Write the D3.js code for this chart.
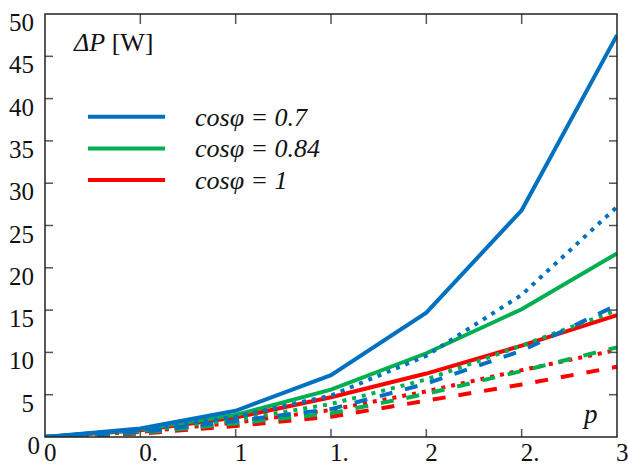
<!DOCTYPE html>
<html>
<head>
  <meta charset="UTF-8">
  <script src="https://d3js.org/d3.v7.min.js"></script>
</head>
<body style="margin:0">
  <svg width="628" height="466"></svg>
  <script>
    // data
    const pValues = [0, 0.5, 1, 1.5, 2, 2.5, 3];
    const xTickLabels = ["0", "0.", "1", "1.", "2", "2.", "3"];
    const yTicks = [0, 5, 10, 15, 20, 25, 30, 35, 40, 45, 50];

    const blueSolid   = [0, 1.0, 3.1, 7.3, 14.7, 26.8, 47.5];
    const blueDotted  = [0, 0.8, 2.4, 4.9, 9.6, 16.8, 27.2];
    const blueDashed  = [0, 0.6, 1.9, 3.3, 6.3, 10.2, 15.6];
    const greenSolid  = [0, 0.9, 2.6, 5.6, 9.9, 15.1, 21.7];
    const greenDotted = [0, 0.7, 2.0, 3.9, 6.8, 10.8, 15.0];
    const greenDashed = [0, 0.5, 1.6, 2.8, 5.1, 7.8, 10.6];
    const redSolid    = [0, 0.8, 2.3, 4.7, 7.5, 10.8, 14.4];
    const redDotted   = [0, 0.6, 1.7, 3.2, 5.4, 7.9, 10.3];
    const redDashed   = [0, 0.4, 1.3, 2.4, 4.3, 6.2, 8.3];

    const legendLabels = ["cosφ = 0.7", "cosφ = 0.84", "cosφ = 1"];

    const colors = { blue: "#0070C0", green: "#00B050", red: "#FF0000" };
    const dash = { solid: null, dotted: "4,6", dashed: "13,13" };
    const serifFont = "'Liberation Serif', 'Times New Roman', Tinos, serif";

    // drawing order: red under green under blue
    const series = [
      { values: redSolid, color: colors.red, style: "solid" },
      { values: redDotted, color: colors.red, style: "dotted" },
      { values: redDashed, color: colors.red, style: "dashed" },
      { values: greenSolid, color: colors.green, style: "solid" },
      { values: greenDotted, color: colors.green, style: "dotted" },
      { values: greenDashed, color: colors.green, style: "dashed" },
      { values: blueSolid, color: colors.blue, style: "solid" },
      { values: blueDotted, color: colors.blue, style: "dotted" },
      { values: blueDashed, color: colors.blue, style: "dashed" }
    ];

    const plotLeft = 45, plotRight = 617, plotTop = 14, plotBottom = 437;

    const svg = d3.select("svg")
      .attr("font-family", serifFont)
      .style("font-family", serifFont);

    const x = d3.scaleLinear().domain([0, 3]).range([plotLeft, plotRight]);
    const y = d3.scaleLinear().domain([0, 50]).range([plotBottom, plotTop]);

    const line = d3.line()
      .x((d, i) => x(pValues[i]))
      .y(d => y(d));

    // clip to plot area
    svg.append("clipPath").attr("id", "plot")
      .append("rect")
      .attr("x", plotLeft).attr("y", plotTop)
      .attr("width", plotRight - plotLeft).attr("height", plotBottom - plotTop);

    svg.append("g")
      .attr("clip-path", "url(#plot)")
      .selectAll("path")
      .data(series)
      .join("path")
      .attr("d", d => line(d.values))
      .attr("fill", "none")
      .attr("stroke", d => d.color)
      .attr("stroke-width", 4)
      .attr("stroke-dasharray", d => dash[d.style]);

    // ticks (inward, on all four sides)
    const tickLen = 8;
    const ticks = svg.append("g").attr("stroke", "#555").attr("stroke-width", 1.5);

    pValues.slice(1, -1).forEach(v => {
      ticks.append("line")
        .attr("x1", x(v)).attr("x2", x(v))
        .attr("y1", plotBottom).attr("y2", plotBottom - tickLen);
      ticks.append("line")
        .attr("x1", x(v)).attr("x2", x(v))
        .attr("y1", plotTop).attr("y2", plotTop + tickLen + 2);
    });

    yTicks.slice(1, -1).forEach(v => {
      ticks.append("line")
        .attr("x1", plotLeft).attr("x2", plotLeft + tickLen)
        .attr("y1", y(v)).attr("y2", y(v));
      ticks.append("line")
        .attr("x1", plotRight).attr("x2", plotRight - tickLen)
        .attr("y1", y(v)).attr("y2", y(v));
    });

    // frame
    svg.append("rect")
      .attr("x", plotLeft).attr("y", plotTop)
      .attr("width", plotRight - plotLeft).attr("height", plotBottom - plotTop)
      .attr("fill", "none")
      .attr("stroke", "#222")
      .attr("stroke-width", 1.5);

    // tick labels
    svg.append("g")
      .selectAll("text")
      .data(yTicks)
      .join("text")
      .attr("x", d => d === 0 ? 40 : 34)
      .attr("y", d => y(d) + 17)
      .attr("text-anchor", "end")
      .attr("font-size", 25)
      .attr("fill", "#111")
      .attr("font-family", serifFont)
      .style("font-family", serifFont)
      .text(d => d);

    svg.append("g")
      .selectAll("text")
      .data(pValues)
      .join("text")
      .attr("x", d => x(d) - 1)
      .attr("y", 461)
      .attr("text-anchor", "start")
      .attr("font-size", 25)
      .attr("fill", "#111")
      .attr("font-family", serifFont)
      .style("font-family", serifFont)
      .text((d, i) => xTickLabels[i]);

    // axis titles
    const yTitle = svg.append("text")
      .attr("x", 74)
      .attr("y", 51)
      .attr("font-size", 26)
      .attr("fill", "#111")
      .attr("font-family", serifFont)
      .style("font-family", serifFont);
    yTitle.append("tspan").attr("font-style", "italic").text("ΔP");
    yTitle.append("tspan").text(" [W]");

    svg.append("text")
      .attr("x", 584)
      .attr("y", 423)
      .attr("font-size", 27)
      .attr("font-style", "italic")
      .attr("fill", "#111")
      .attr("font-family", serifFont)
      .style("font-family", serifFont)
      .text("p");

    // legend
    const legendColors = [colors.blue, colors.green, colors.red];
    const legend = svg.append("g")
      .selectAll("g")
      .data(legendLabels)
      .join("g")
      .attr("transform", (d, i) => `translate(0, ${116.7 + i * 31.7})`);

    legend.append("line")
      .attr("x1", 88).attr("x2", 165)
      .attr("y1", 0).attr("y2", 0)
      .attr("stroke", (d, i) => legendColors[i])
      .attr("stroke-width", 4);

    legend.append("text")
      .attr("x", 195)
      .attr("y", 9)
      .attr("font-size", 26)
      .attr("font-style", "italic")
      .attr("fill", "#111")
      .attr("font-family", serifFont)
      .style("font-family", serifFont)
      .text(d => d);
  </script>
</body>
</html>
